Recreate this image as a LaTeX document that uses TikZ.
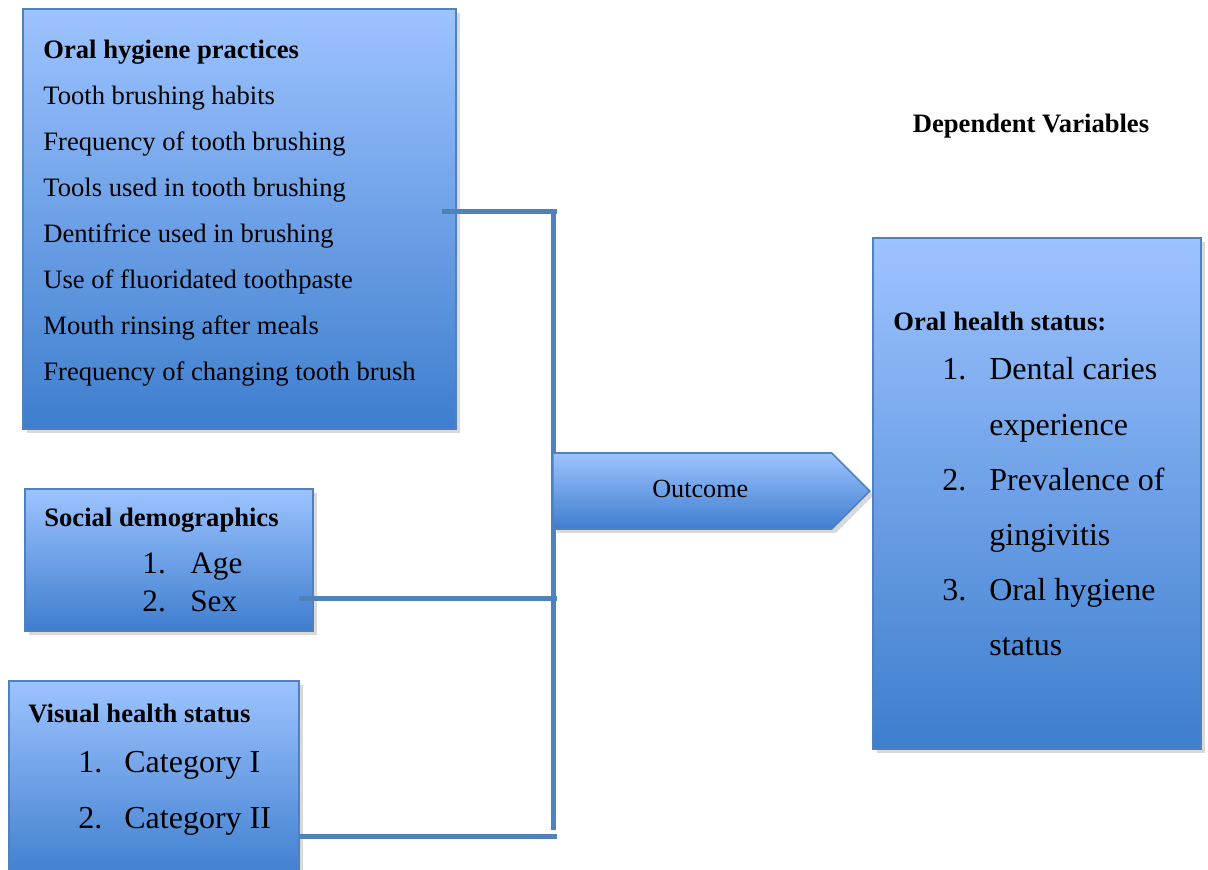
\documentclass[tikz,border=0pt]{standalone}
\usepackage{fontspec}
\setmainfont{Liberation Serif}
\usetikzlibrary{calc, positioning, shadows, shapes.symbols}

\definecolor{boxtop}{RGB}{157,195,255}
\definecolor{boxbottom}{RGB}{62,126,206}
\definecolor{boxline}{RGB}{79,129,189}

\begin{document}
\begin{tikzpicture}[
   x = 0.5pt, y = -0.5pt,
   panel/.style = {draw=boxline, line width=0.8pt, top color=boxtop, bottom color=boxbottom,
                   drop shadow={opacity=0.3, shadow xshift=2pt, shadow yshift=-2pt},
                   anchor=north west, inner sep=0pt},
   heading/.style = {anchor=base west, inner sep=0pt, font=\fontsize{13.3}{16}\selectfont\bfseries},
   itemlist/.style = {anchor=base west, inner sep=0pt},
   link/.style = {draw=boxline, line width=2.5pt}]
   \useasboundingbox (0,0) rectangle (1208,870);
   \clip (0,0) rectangle (1208,870);

   % boxes
   \node[panel, minimum width=216.5pt, minimum height=210pt] (practices) at (22,8) {};
   \node[panel, minimum width=144pt, minimum height=71pt] (social) at (24,488) {};
   \node[panel, minimum width=145pt, minimum height=100pt] (visual) at (8,680) {};
   \node[panel, minimum width=164pt, minimum height=255.5pt] (status) at (872,237) {};

   % texts
   \node[itemlist, font=\fontsize{13.3}{23}\selectfont] (practices-list) at (43,59)
      {\begin{tabular}[t]{@{}l@{}}
         \textbf{Oral hygiene practices}\\
         Tooth brushing habits\\
         Frequency of tooth brushing\\
         Tools used in tooth brushing\\
         Dentifrice used in brushing\\
         Use of fluoridated toothpaste\\
         Mouth rinsing after meals\\
         Frequency of changing tooth brush
       \end{tabular}};

   \node[heading] (social-head) at (44,526) {Social demographics};
   \node[itemlist, font=\fontsize{15.6}{18.5}\selectfont] (social-list) at (142,574)
      {\begin{tabular}[t]{@{}l@{\hspace{12.3pt}}l@{}}
         1. & Age\\
         2. & Sex
       \end{tabular}};

   \node[heading] (visual-head) at (28,722) {Visual health status};
   \node[itemlist, font=\fontsize{16}{28}\selectfont] (visual-list) at (78,772)
      {\begin{tabular}[t]{@{}l@{\hspace{11pt}}l@{}}
         1. & Category I\\
         2. & Category II
       \end{tabular}};

   \node[heading] (status-head) at (893,331) {Oral health status:};
   \node[itemlist, font=\fontsize{16}{27.6}\selectfont] (status-list) at (942,380)
      {\begin{tabular}[t]{@{}l@{\hspace{11.5pt}}l@{}}
         1. & Dental caries\\
            & experience\\
         2. & Prevalence of\\
            & gingivitis\\
         3. & Oral hygiene\\
            & status
       \end{tabular}};

   \node[heading, anchor=base] (dependent) at (1031,133) {Dependent Variables};

   % connectors
   \coordinate (j1) at (557,212);
   \coordinate (j2) at (557,598);
   \coordinate (j3) at (557,836);
   \coordinate (bus-a) at (553,210);
   \coordinate (bus-b) at (553,830);
   \draw[link] (bus-a) -- (bus-b);
   \draw[link] ($(practices.east |- j1)+(-15,0)$) -- (j1);
   \draw[link] ($(social.east |- j2)+(-15,0)$) -- (j2);
   \draw[link] (visual.east |- j3) -- (j3);

   \node[signal, signal to=east, signal pointer angle=90, draw=boxline, line width=0.8pt,
         top color=boxtop, bottom color=boxbottom,
         drop shadow={opacity=0.3, shadow xshift=2pt, shadow yshift=-2pt},
         minimum width=158.5pt, minimum height=38pt, inner sep=0pt, anchor=west,
         font=\fontsize{13.1}{15}\selectfont] (outcome) at (552,491)
      {\raisebox{2.5pt}{\hspace{8pt}Outcome}};
\end{tikzpicture}
\end{document}
